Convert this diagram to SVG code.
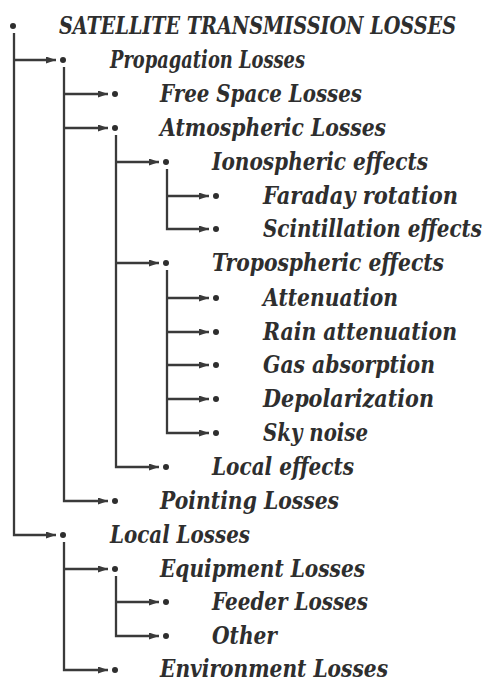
<svg xmlns="http://www.w3.org/2000/svg" width="485" height="680" viewBox="0 0 485 680">
<defs>
<marker id="ah" markerUnits="userSpaceOnUse" markerWidth="11" markerHeight="8" refX="10" refY="3.5" orient="auto">
<path d="M0,0 L10,3.5 L0,7 z" fill="#3a3a3a"/>
</marker>
<style>
.t{font-family:"DejaVu Serif","Liberation Serif",serif;font-weight:bold;font-style:italic;font-size:23.5px;fill:#2e2e2e}
.c path{fill:none;stroke:#3a3a3a;stroke-width:2.3}
.c path.a{marker-end:url(#ah)}
.b{fill:#2e2e2e}
</style>
</defs>
<rect width="485" height="680" fill="#ffffff"/>
<g class="c" id="connectors">
<path d="M14,33 V535 H56" class="a"/>
<path d="M14,60 H56" class="a"/>
<path d="M64,67 V501 H108" class="a"/>
<path d="M64,94 H108" class="a"/>
<path d="M64,128 H108" class="a"/>
<path d="M116,135 V467 H159" class="a"/>
<path d="M116,162 H159" class="a"/>
<path d="M116,263 H159" class="a"/>
<path d="M167,169 V229 H209" class="a"/>
<path d="M167,196 H209" class="a"/>
<path d="M167,270 V433 H209" class="a"/>
<path d="M167,298 H209" class="a"/>
<path d="M167,332 H209" class="a"/>
<path d="M167,365 H209" class="a"/>
<path d="M167,399 H209" class="a"/>
<path d="M64,542 V670 H108" class="a"/>
<path d="M64,569 H108" class="a"/>
<path d="M116,576 V636 H159" class="a"/>
<path d="M116,602 H159" class="a"/>
</g>
<g id="n0"><circle class="b" cx="13" cy="26" r="3"/><text class="t" x="59" y="34" textLength="397" lengthAdjust="spacingAndGlyphs">SATELLITE TRANSMISSION LOSSES</text></g>
<g id="n1"><circle class="b" cx="63" cy="60" r="3"/><text class="t" x="110" y="68" textLength="195" lengthAdjust="spacingAndGlyphs">Propagation Losses</text></g>
<g id="n2"><circle class="b" cx="115" cy="94" r="3"/><text class="t" x="160" y="102" textLength="202" lengthAdjust="spacingAndGlyphs">Free Space Losses</text></g>
<g id="n3"><circle class="b" cx="115" cy="128" r="3"/><text class="t" x="160" y="136" textLength="226" lengthAdjust="spacingAndGlyphs">Atmospheric Losses</text></g>
<g id="n4"><circle class="b" cx="166" cy="162" r="3"/><text class="t" x="212" y="170" textLength="216" lengthAdjust="spacingAndGlyphs">Ionospheric effects</text></g>
<g id="n5"><circle class="b" cx="216" cy="196" r="3"/><text class="t" x="263" y="204" textLength="195" lengthAdjust="spacingAndGlyphs">Faraday rotation</text></g>
<g id="n6"><circle class="b" cx="216" cy="229" r="3"/><text class="t" x="263" y="237" textLength="219" lengthAdjust="spacingAndGlyphs">Scintillation effects</text></g>
<g id="n7"><circle class="b" cx="166" cy="263" r="3"/><text class="t" x="212" y="271" textLength="232" lengthAdjust="spacingAndGlyphs">Tropospheric effects</text></g>
<g id="n8"><circle class="b" cx="216" cy="298" r="3"/><text class="t" x="263" y="306" textLength="135" lengthAdjust="spacingAndGlyphs">Attenuation</text></g>
<g id="n9"><circle class="b" cx="216" cy="332" r="3"/><text class="t" x="263" y="340" textLength="194" lengthAdjust="spacingAndGlyphs">Rain attenuation</text></g>
<g id="n10"><circle class="b" cx="216" cy="365" r="3"/><text class="t" x="263" y="373" textLength="172" lengthAdjust="spacingAndGlyphs">Gas absorption</text></g>
<g id="n11"><circle class="b" cx="216" cy="399" r="3"/><text class="t" x="263" y="407" textLength="171" lengthAdjust="spacingAndGlyphs">Depolarization</text></g>
<g id="n12"><circle class="b" cx="216" cy="433" r="3"/><text class="t" x="263" y="441" textLength="105" lengthAdjust="spacingAndGlyphs">Sky noise</text></g>
<g id="n13"><circle class="b" cx="166" cy="467" r="3"/><text class="t" x="212" y="475" textLength="142" lengthAdjust="spacingAndGlyphs">Local effects</text></g>
<g id="n14"><circle class="b" cx="115" cy="501" r="3"/><text class="t" x="160" y="509" textLength="179" lengthAdjust="spacingAndGlyphs">Pointing Losses</text></g>
<g id="n15"><circle class="b" cx="63" cy="535" r="3"/><text class="t" x="110" y="543" textLength="140" lengthAdjust="spacingAndGlyphs">Local Losses</text></g>
<g id="n16"><circle class="b" cx="115" cy="569" r="3"/><text class="t" x="160" y="577" textLength="205" lengthAdjust="spacingAndGlyphs">Equipment Losses</text></g>
<g id="n17"><circle class="b" cx="166" cy="602" r="3"/><text class="t" x="212" y="610" textLength="156" lengthAdjust="spacingAndGlyphs">Feeder Losses</text></g>
<g id="n18"><circle class="b" cx="166" cy="636" r="3"/><text class="t" x="212" y="644" textLength="65" lengthAdjust="spacingAndGlyphs">Other</text></g>
<g id="n19"><circle class="b" cx="115" cy="670" r="3"/><text class="t" x="160" y="677" textLength="228" lengthAdjust="spacingAndGlyphs">Environment Losses</text></g>
</svg>
